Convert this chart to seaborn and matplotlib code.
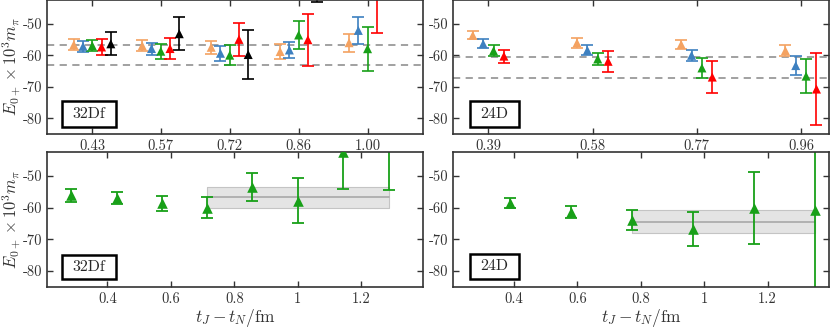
import numpy as np
import pandas as pd
import seaborn as sns
import matplotlib.pyplot as plt
from matplotlib.patches import Rectangle

# data
# top panels: E0+ x 10^3 m_pi per operator series, grouped by t_J - t_N
t_32 = [0.429, 0.571, 0.714, 0.857, 1.000]
t_32_labels = ['0.43', '0.57', '0.72', '0.86', '1.00']
t_24 = [0.386, 0.579, 0.772, 0.965]
t_24_labels = ['0.39', '0.58', '0.77', '0.96']

series_32 = ['orange', 'blue', 'green', 'red', 'black']
val_32 = {
    'orange': [-56.7, -57.0, -57.5, -58.85, -56.05],
    'blue':   [-57.2, -57.9, -59.4, -58.35, -52.15],
    'green':  [-57.0, -58.75, -60.0, -53.6, -57.95],
    'red':    [-57.4, -57.9, -55.0, -55.1, -38.0],
    'black':  [-56.4, -53.2, -59.8, -35.0, np.nan],
}
err_32 = {
    'orange': [1.8, 1.8, 2.0, 2.25, 2.85],
    'blue':   [1.7, 1.9, 2.3, 2.55, 4.25],
    'green':  [1.8, 2.35, 3.2, 4.35, 6.95],
    'red':    [2.4, 3.45, 5.3, 8.3, 14.9],
    'black':  [3.7, 5.2, 7.9, 8.0, np.nan],
}

series_24 = ['orange', 'blue', 'green', 'red']
val_24 = {
    'orange': [-53.7, -56.1, -56.6, -58.55],
    'blue':   [-56.4, -58.45, -60.05, -63.3],
    'green':  [-58.6, -61.2, -64.05, -66.65],
    'red':    [-60.3, -61.95, -66.95, -70.75],
}
err_24 = {
    'orange': [1.3, 1.5, 1.4, 1.85],
    'blue':   [1.4, 1.65, 1.85, 3.0],
    'green':  [1.7, 2.0, 3.25, 5.35],
    'red':    [2.1, 3.25, 5.05, 11.55],
}

dashed_32 = [-56.8, -63.25]
dashed_24 = [-60.6, -67.2]

# bottom panels: green series only, with fit band
tb_32 = [0.286, 0.429, 0.571, 0.714, 0.857, 1.000, 1.143, 1.286]
vb_32 = [-56.1, -57.0, -58.7, -60.0, -53.6, -57.8, -42.6, -36.0]
eb_32 = [2.0, 2.0, 2.3, 3.2, 4.4, 7.2, 11.4, 18.5]
fit_32 = dict(t0=0.714, t1=1.286, mid=-56.8, err=3.35)

tb_24 = [0.386, 0.579, 0.772, 0.965, 1.158, 1.351]
vb_24 = [-58.6, -61.3, -64.0, -66.7, -60.2, -60.8]
eb_24 = [1.6, 1.9, 3.2, 5.3, 11.3, 30.0]
fit_24 = dict(t0=0.772, t1=1.351, mid=-64.4, err=3.7)

colors = {'orange': '#f4a261', 'blue': '#3d80c0', 'green': '#18a018',
          'red': '#ff0000', 'black': '#000000'}
shift = 0.0192

sns.set_style('ticks')
plt.rcParams['font.family'] = ['cmr10', 'DejaVu Serif']
plt.rcParams['mathtext.fontset'] = 'cm'
plt.rcParams['axes.unicode_minus'] = False
plt.rcParams['axes.edgecolor'] = '#333333'
plt.rcParams['axes.linewidth'] = 1.2

fig = plt.figure(figsize=(8.3, 3.3), dpi=100)
W, H = 830, 330


def px_axes(x0, y0, x1, y1):
    return fig.add_axes([x0 / W, 1 - y1 / H, (x1 - x0) / W, (y1 - y0) / H])


ax_tl = px_axes(47, 0, 423, 134)
ax_tr = px_axes(453, 0, 829, 134)
ax_bl = px_axes(47, 152, 423, 287)
ax_br = px_axes(453, 152, 829, 287)


def style(ax, xlim):
    ax.set_xlim(*xlim)
    ax.set_ylim(-85, -42.5)
    ax.set_yticks([-80, -70, -60, -50])
    ax.tick_params(direction='in', top=True, right=True, length=4,
                   width=1, color='#333333', labelsize=10.5,
                   labelcolor='#333333')
    for s in ax.spines.values():
        s.set_visible(True)
    ax.set_xlabel('')
    ax.set_ylabel('')


def label_box(ax, text, x0, y0, w, h):
    # box position in pixels relative to axes lower-left corner
    bb = ax.get_position()
    aw, ah = bb.width * W, bb.height * H
    ax.add_patch(Rectangle((x0 / aw, y0 / ah), w / aw, h / ah,
                           transform=ax.transAxes, facecolor='white',
                           edgecolor='black', lw=1.8, zorder=5))
    ax.text((x0 + w / 2) / aw, (y0 + h / 2) / ah, text, transform=ax.transAxes,
            ha='center', va='center', fontsize=11.5, zorder=6)


def top_panel(ax, t, labels, names, vals, errs, dashed, xlim):
    k0 = (len(names) - 1) / 2
    rows = []
    for i, name in enumerate(names):
        x = np.array(t) + (i - k0) * shift
        ax.errorbar(x, vals[name], yerr=errs[name], fmt='none',
                    ecolor=colors[name], elinewidth=1.2, capsize=4,
                    capthick=1.2, zorder=2)
        for xi, yi in zip(x, vals[name]):
            rows.append({'x': xi, 'y': yi, 'series': name})
    df = pd.DataFrame(rows).dropna()
    sns.scatterplot(df, x='x', y='y', hue='series', palette=colors,
                    marker='^', s=42, linewidth=0, legend=False, ax=ax,
                    zorder=3)
    for d in dashed:
        ax.axhline(d, color='#9a9a9a', lw=1.3, ls=(0, (4, 3)), zorder=1)
    style(ax, xlim)
    ax.set_xticks(t)
    ax.set_xticklabels(labels)


def bottom_panel(ax, t, v, e, fit, xlim):
    ax.fill_between([fit['t0'], fit['t1']], fit['mid'] - fit['err'],
                    fit['mid'] + fit['err'], color='#e4e4e4',
                    edgecolor='#c4c4c4', lw=0.8, zorder=1)
    ax.plot([fit['t0'], fit['t1']], [fit['mid'], fit['mid']],
            color='#a8a8a8', lw=1.2, zorder=1)
    ax.errorbar(t, v, yerr=e, fmt='none', ecolor=colors['green'],
                elinewidth=1.3, capsize=4.5, capthick=1.3, zorder=2)
    df = pd.DataFrame({'x': t, 'y': v})
    sns.scatterplot(df, x='x', y='y', color=colors['green'], marker='^',
                    s=58, linewidth=0, legend=False, ax=ax, zorder=3)
    style(ax, xlim)
    ax.set_xticks([0.4, 0.6, 0.8, 1.0, 1.2])
    ax.set_xticklabels(['0.4', '0.6', '0.8', '1', '1.2'])
    ax.set_xlabel(r'$t_J - t_N/\mathrm{fm}$', fontsize=12.5, color='#333333',
                  labelpad=1)


top_panel(ax_tl, t_32, t_32_labels, series_32, val_32, err_32, dashed_32,
          (0.335, 1.115))
top_panel(ax_tr, t_24, t_24_labels, series_24, val_24, err_24, dashed_24,
          (0.3205, 1.017))
bottom_panel(ax_bl, tb_32, vb_32, eb_32, fit_32, (0.21, 1.394))
bottom_panel(ax_br, tb_24, vb_24, eb_24, fit_24, (0.2076, 1.394))

for ax in (ax_tl, ax_bl):
    ax.set_ylabel(r'$E_{0+}\times 10^3 m_\pi$', fontsize=12,
                  color='#333333', labelpad=0)

label_box(ax_tl, '32Df', 15, 7, 54, 26)
label_box(ax_tr, '24D', 17, 7, 49, 26)
label_box(ax_bl, '32Df', 15, 8, 54, 24)
label_box(ax_br, '24D', 17, 8, 49, 25)

fig.savefig('out.png', dpi=100)
